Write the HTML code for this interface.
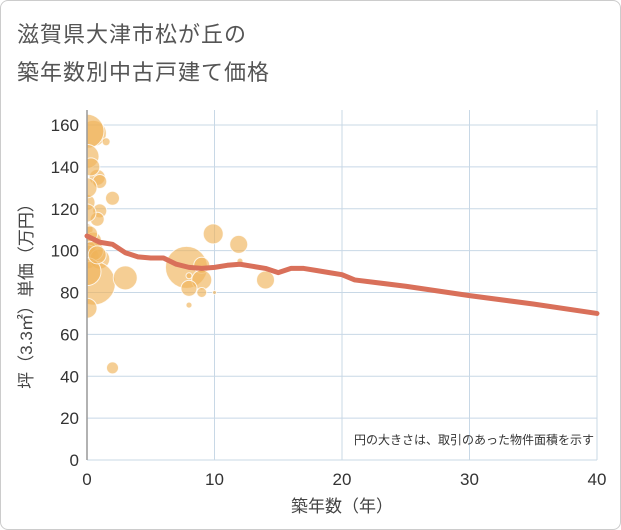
<!DOCTYPE html>
<html><head><meta charset="utf-8"><style>
body{margin:0;background:#fff;font-family:"Liberation Sans","Noto Sans CJK JP",sans-serif}
#wrap{position:relative;width:619px;height:528px;border:1px solid #ccc;border-radius:8px;background:#fff;overflow:hidden}
.t{position:absolute;left:16px;font-size:22px;color:#555;letter-spacing:1px}
</style></head><body>
<div id="wrap">
<div class="t" style="top:16px">滋賀県大津市松が丘の</div>
<div class="t" style="top:54px">築年数別中古戸建て価格</div>
<svg id="c" width="621" height="530" style="position:absolute;left:-1px;top:-1px"><defs><clipPath id="pc"><rect x="87" y="100" width="520" height="370"/></clipPath></defs><g id="bub" clip-path="url(#pc)"></g></svg>
</div>
<script>
const xTicks=[0,10,20,30,40];
const yTicks=[0,20,40,60,80,100,120,140,160];
const bubbleX=[0.5,0,0,1.5,0.8,1,2,0,1,0.8,0,0.5,0,0,1,0.5,3,0,2,7.8,9,9,8,9,8,10,9.9,11.9,14,12,8,0,0.3,0,0.5,0,0.8,0.2];
const bubbleY=[156,157,145,152,135,133,125,123,119,115,110,105,100,97,96,84.5,87,72.5,44,92,93,86,82,80,74,80,108,103,86,95,88,130,140,118,100,90,98,108];
const bubbleR=[13,17,12,4,8,7,7,8,7,7,6,8,10,12,10,22,12,10,6,21,8,10,8,5,3,2,10,9,9,3,3,10,9,9,10,14,9,8];
const lineX=[0,1,2,3,4,5,6,7,8,9,10,11,12,13,14,15,16,17,18,19,20,21,25,30,35,40];
const lineY=[107,104,103,99,97,96.5,96.5,93.5,92,91.5,92,93,93.5,92.5,91.5,89.5,91.5,91.5,90.5,89.5,88.5,86,83,78.5,74.5,70];
const X0=87,X1=597,Y0=460,Y1=125;
const sx=v=>X0+(X1-X0)*v/40, sy=v=>Y0-(Y0-Y1)*v/160;
const svg=document.getElementById('c'),bg=document.getElementById('bub'),NS='http://www.w3.org/2000/svg';
function mk(t,a,p){const e=document.createElementNS(NS,t);for(const k in a)e.setAttribute(k,a[k]);(p||svg).appendChild(e);return e;}
yTicks.forEach(v=>{
 const l=mk('line',{x1:X0,x2:X1,y1:sy(v),y2:sy(v),stroke:'#c8d8e6','stroke-width':1});
 
 
 const t=mk('text',{x:X0-8,y:sy(v)+6,'text-anchor':'end','font-size':17,fill:'#333'});t.textContent=v;
 
 
});
xTicks.forEach(v=>{
 const l=mk('line',{x1:sx(v),x2:sx(v),y1:Y1-15,y2:Y0,stroke:'#c8d8e6','stroke-width':1});
 
 
 const t=mk('text',{x:sx(v),y:Y0+25,'text-anchor':'middle','font-size':17,fill:'#333'});t.textContent=v;
 
 
});
svg.appendChild(bg);
bubbleX.forEach((x,i)=>{
 const c=mk('circle',{cx:sx(x),cy:sy(bubbleY[i]),r:bubbleR[i],fill:'rgba(240,180,90,0.65)',stroke:'rgba(255,255,255,0.8)','stroke-width':1},bg);
 
 
});
const ax=mk('line',{x1:X0,x2:X0,y1:Y1-15,y2:Y0,stroke:'#999','stroke-width':1.5});


const p=mk('polyline',{points:lineX.map((x,i)=>sx(x)+','+sy(lineY[i])).join(' '),fill:'none',stroke:'#d9705a','stroke-width':5,'stroke-linejoin':'round','stroke-linecap':'round'});


const n=mk('text',{x:594,y:444,'text-anchor':'end','font-size':12,fill:'#333'});n.textContent='円の大きさは、取引のあった物件面積を示す';


const xt=mk('text',{x:342,y:512,'text-anchor':'middle','font-size':17,fill:'#444'});xt.textContent='築年数（年）';


const yt=mk('text',{x:0,y:0,'text-anchor':'middle','font-size':17,fill:'#444',transform:'translate(32,292) rotate(-90)'});yt.textContent='坪（3.3㎡）単価（万円）';


</script>
</body></html>
